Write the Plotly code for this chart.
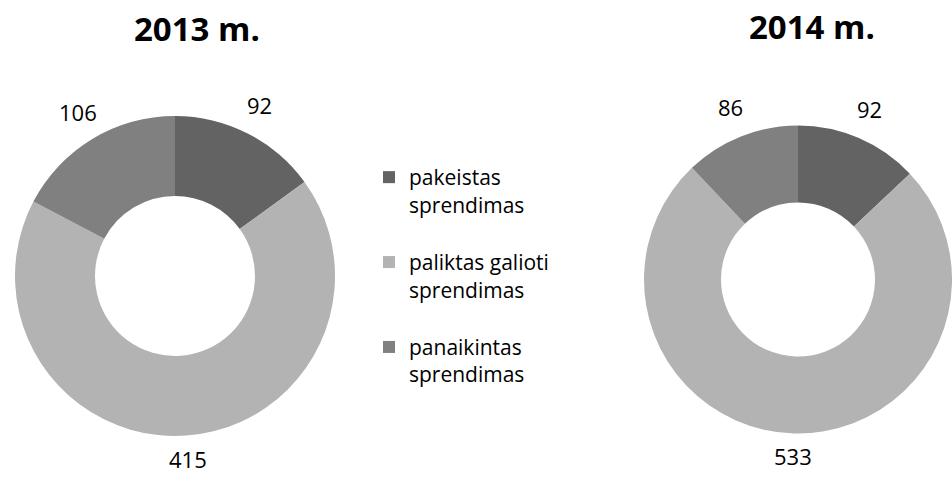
import math
import plotly.graph_objects as go

# ---- data ----
categories = ["pakeistas<br>sprendimas", "paliktas galioti<br>sprendimas", "panaikintas<br>sprendimas"]
years = ["2013 m.", "2014 m."]
values_2013 = [92, 415, 106]
values_2014 = [92, 533, 86]
colors = ["#636363", "#b3b3b3", "#808080"]

W, H = 952, 481
FONT = "Open Sans"

# pie geometry (pixels)
pies = [
    dict(vals=values_2013, x0=14, x1=336, cy=276, title=years[0], tx=197, ty=29),
    dict(vals=values_2014, x0=644, x1=W, cy=279.5, title=years[1], tx=812, ty=26),
]

legend_labels = [c + "<br>\u00a0" for c in categories]

fig = go.Figure()
annotations = []
for i, p in enumerate(pies):
    cy_b = H - p["cy"]
    half = 160
    fig.add_trace(go.Pie(
        labels=legend_labels,
        values=p["vals"],
        hole=0.5,
        sort=False,
        direction="clockwise",
        rotation=0,
        marker=dict(colors=colors, line=dict(width=0)),
        textinfo="none",
        hoverinfo="label+value",
        showlegend=(i == 0),
        domain=dict(x=[p["x0"] / W, p["x1"] / W], y=[(cy_b - half) / H, (cy_b + half) / H]),
    ))
    w = p["x1"] - p["x0"]
    r = min(w, 2 * half) / 2
    cx = p["x0"] + w / 2
    # data labels, placed along each slice's mid angle
    total = sum(p["vals"])
    cum = 0
    for v in p["vals"]:
        mid = (cum + v / 2) / total * 2 * math.pi
        cum += v
        lr = r + 27
        lx = cx + lr * math.sin(mid)
        ly = p["cy"] - lr * math.cos(mid) - 4
        annotations.append(dict(
            x=lx / W, y=1 - ly / H, xref="paper", yref="paper",
            text=str(v), showarrow=False, xanchor="center", yanchor="middle",
            font=dict(family=FONT, size=22, color="#000000"),
        ))
    annotations.append(dict(
        x=p["tx"] / W, y=1 - p["ty"] / H, xref="paper", yref="paper",
        text="<b>" + p["title"] + "</b>", showarrow=False, xanchor="center", yanchor="middle",
        font=dict(family=FONT, size=33, color="#000000"),
    ))

fig.update_layout(
    width=W, height=H,
    margin=dict(l=0, r=0, t=0, b=0),
    paper_bgcolor="#ffffff",
    plot_bgcolor="#ffffff",
    font=dict(family=FONT, color="#000000"),
    annotations=annotations,
    legend=dict(
        x=369 / W, y=1 - 157 / H, xanchor="left", yanchor="top",
        font=dict(family=FONT, size=21, color="#000000"),
        valign="top",
        bgcolor="rgba(0,0,0,0)",
        traceorder="normal",
    ),
)

fig.write_html(
    "out.html",
    config={"displayModeBar": False},
    post_script="document.body.style.margin='0';document.body.style.overflow='hidden';",
)
